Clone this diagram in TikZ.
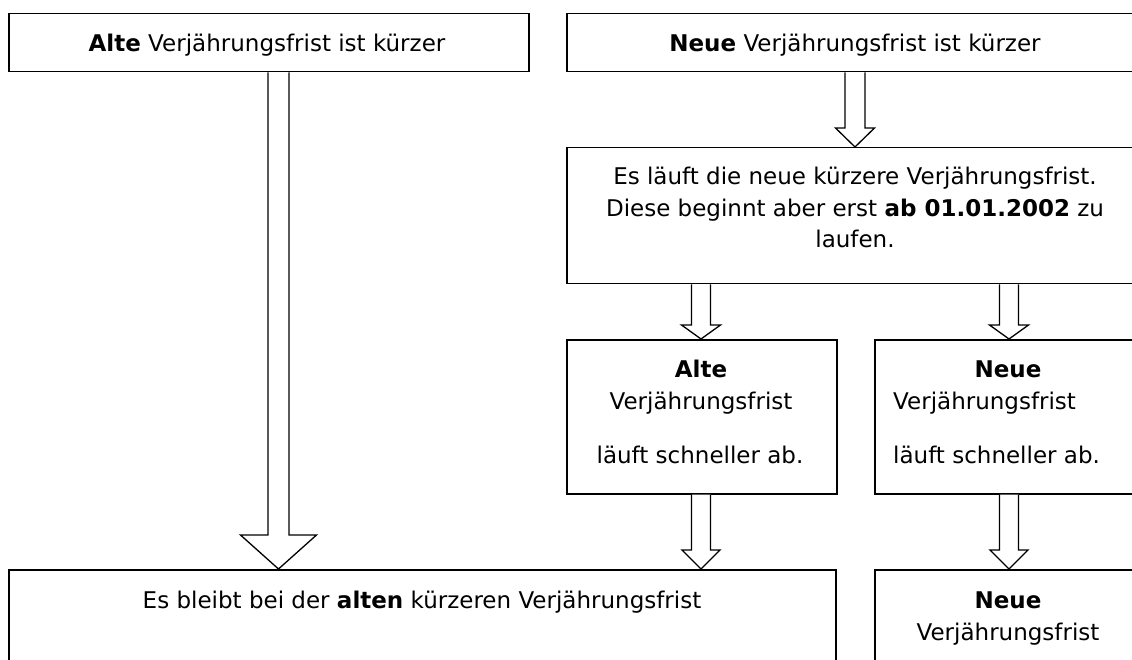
\documentclass[tikz,border=0pt]{standalone}
\usepackage{fontspec}
\setmainfont{DejaVu Sans}
\usetikzlibrary{calc}
\tikzset{
  box/.style={draw, line width=1.5pt, fill=white, rectangle, inner sep=0pt, anchor=north west},
  txt/.style={inner sep=0pt, anchor=base, font=\fontsize{23}{30}\selectfont},
  txtl/.style={txt, anchor=base west},
  arr/.style={draw, line width=1.3pt, fill=white, line join=miter},
}
\newcommand\blockarrow[6]{%
  \coordinate (ax) at (#3,0);
  \draw[arr] ($(#1.south -| ax)+(-#4,0)$) -- ($(#2.north -| ax)+(-#4,-#6)$)
    -- ($(#2.north -| ax)+(-#5,-#6)$) -- (#2.north -| ax)
    -- ($(#2.north -| ax)+(#5,-#6)$) -- ($(#2.north -| ax)+(#4,-#6)$)
    -- ($(#1.south -| ax)+(#4,0)$);
}
\begin{document}
\begin{tikzpicture}[x=1pt,y=-1pt]
\useasboundingbox (0,0) rectangle (1132,660);
\clip (0,0) rectangle (1132,660);
\fill[white] (0,0) rectangle (1132,660);
% boxes
\node[box, minimum width=520pt, minimum height=58pt] (tl) at (8,13) {};
\node[box, minimum width=578pt, minimum height=58pt] (tr) at (566,13) {};
\node[box, minimum width=578pt, minimum height=136pt] (mid) at (566,147) {};
\node[box, minimum width=270pt, minimum height=154pt] (alt) at (566,339) {};
\node[box, minimum width=270pt, minimum height=154pt] (neu) at (874,339) {};
\node[box, minimum width=827pt, minimum height=150pt] (bl) at (8,569) {};
\node[box, minimum width=270pt, minimum height=150pt] (br) at (874,569) {};
% arrows
\blockarrow{tl}{bl}{278.5}{10.5}{38}{34}
\blockarrow{tr}{mid}{855}{10}{19.5}{19}
\blockarrow{mid}{alt}{701}{9.5}{19.5}{14}
\blockarrow{mid}{neu}{1009}{9.5}{19.5}{14}
\blockarrow{alt}{bl}{701}{9.5}{19}{19}
\blockarrow{neu}{br}{1009}{9.5}{19}{19}
% texts
\node[txt] (t1) at (267,52) {\textbf{Alte} Verjährungsfrist ist kürzer};
\node[txt] (t2) at (855,52) {\textbf{Neue} Verjährungsfrist ist kürzer};
\node[txt] (t3a) at (855,185) {Es läuft die neue kürzere Verjährungsfrist.};
\node[txt] (t3b) at (855,217) {Diese beginnt aber erst \textbf{ab 01.01.2002} zu};
\node[txt] (t3c) at (855,248) {laufen.};
\node[txt] (t4a) at (701,377) {\textbf{Alte}};
\node[txt] (t4b) at (701,409) {Verjährungsfrist};
\node[txt] (t4c) at (700,463) {läuft schneller ab.};
\node[txt] (t5a) at (1008,377) {\textbf{Neue}};
\node[txtl] (t5b) at (893,409) {Verjährungsfrist};
\node[txtl] (t5c) at (893,463) {läuft schneller ab.};
\node[txt] (t6) at (422,608) {Es bleibt bei der \textbf{alten} kürzeren Verjährungsfrist};
\node[txt] (t7a) at (1008,608) {\textbf{Neue}};
\node[txt] (t7b) at (1008,640) {Verjährungsfrist};
\end{tikzpicture}
\end{document}
